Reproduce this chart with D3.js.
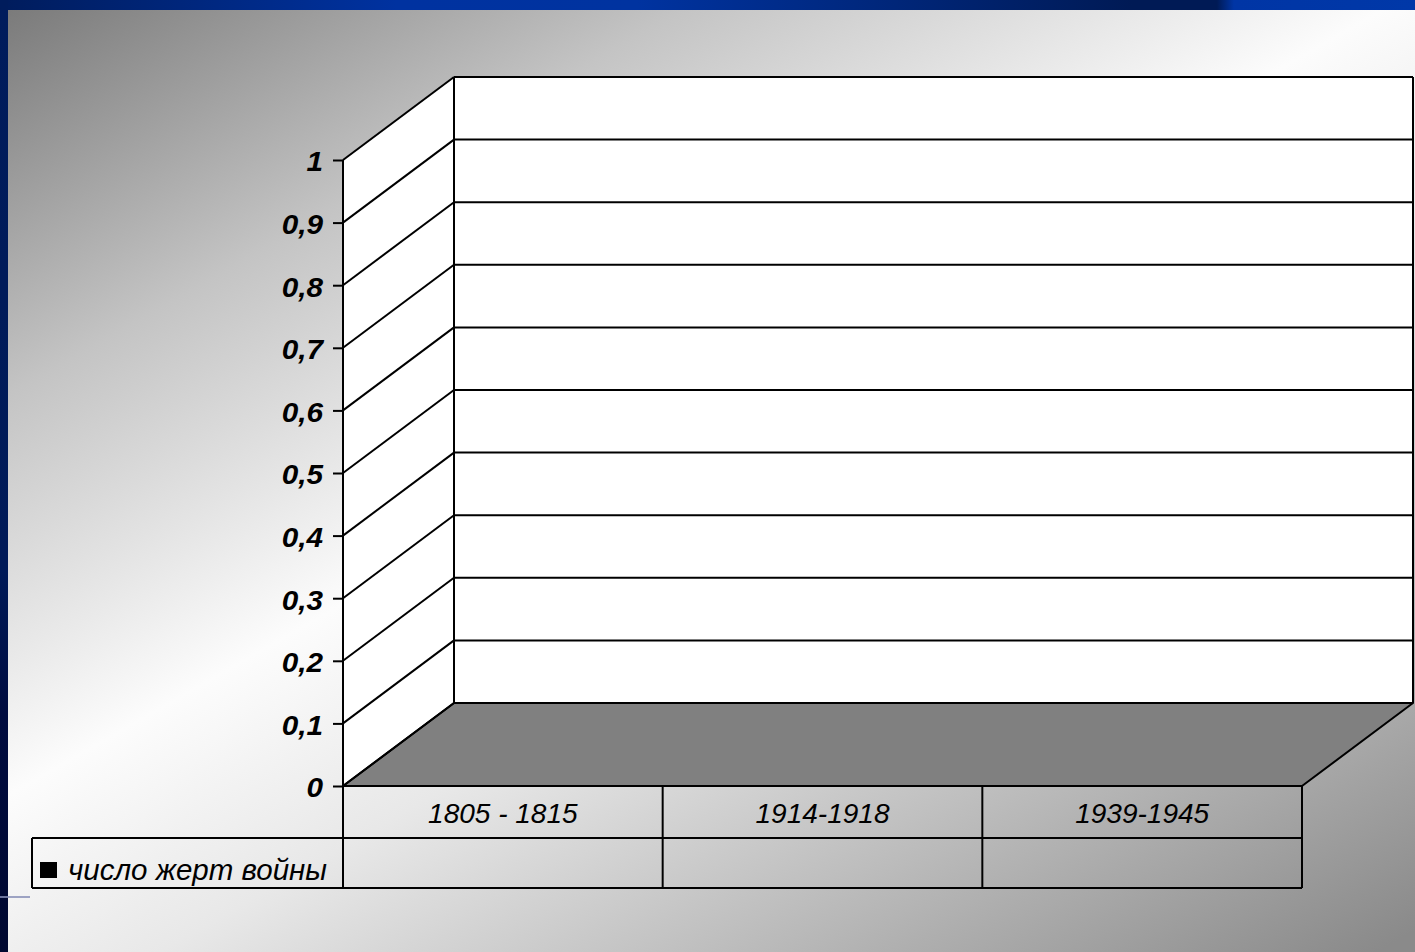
<!DOCTYPE html>
<html><head><meta charset="utf-8">
<script src="https://cdn.jsdelivr.net/npm/d3@7/dist/d3.min.js"></script>
<style>html,body{margin:0;padding:0;overflow:hidden;background:#fff}svg{display:block}</style>
</head><body>
<svg id="c" width="1415" height="952"></svg>
<script>
const categories = ["1805 - 1815", "1914-1918", "1939-1945"];
const seriesName = "число жерт войны";
const seriesValues = [null, null, null];
const yTicks = [0, 0.1, 0.2, 0.3, 0.4, 0.5, 0.6, 0.7, 0.8, 0.9, 1];

const W = 1415, H = 952;
const svg = d3.select("#c");
const defs = svg.append("defs");

// slide background
const bg = defs.append("linearGradient").attr("id","bg").attr("gradientUnits","userSpaceOnUse")
  .attr("x1",0).attr("y1",0).attr("x2",749).attr("y2",1311);
[[0,"#787878"],[0.23,"#c4c4c4"],[0.46,"#fcfcfc"],[0.6,"#e8e8e8"],[1,"#8a8a8a"]].forEach(s=>bg.append("stop").attr("offset",s[0]).attr("stop-color",s[1]));
const topG = defs.append("linearGradient").attr("id","topb").attr("x1",0).attr("x2",1).attr("y1",0).attr("y2",0);
[[0,"#001c5c"],[0.28,"#0032a0"],[0.45,"#0033a0"],[0.8,"#001a55"],[0.86,"#001a55"],[0.872,"#0035a5"],[1,"#0038a8"]].forEach(s=>topG.append("stop").attr("offset",s[0]).attr("stop-color",s[1]));
const leftG = defs.append("linearGradient").attr("id","leftb").attr("x1",0).attr("x2",0).attr("y1",0).attr("y2",1);
[[0,"#001c5c"],[0.6,"#001a58"],[0.75,"#000c40"],[1,"#000830"]].forEach(s=>leftG.append("stop").attr("offset",s[0]).attr("stop-color",s[1]));

svg.append("rect").attr("width",W).attr("height",H).attr("fill","url(#bg)");
svg.append("rect").attr("x",0).attr("y",0).attr("width",W).attr("height",10).attr("fill","url(#topb)");
svg.append("rect").attr("x",0).attr("y",0).attr("width",8).attr("height",H).attr("fill","url(#leftb)");
svg.append("line").attr("x1",0).attr("x2",30).attr("y1",897).attr("y2",897).attr("stroke","#8890b8").attr("stroke-width",2).attr("opacity",0.8);

// chart geometry
const x0 = 343, x1 = 1302, yBase = 786, yTop = 160;
const dx = 111, dy = -83;
const y = d3.scaleLinear().domain([0,1]).range([yBase, yTop]);
const x = d3.scaleBand().domain(categories).range([x0, x1]);

const g = svg.append("g");
const stroke = "#000", sw = 2;

// back wall
g.append("rect").attr("x", x0+dx).attr("y", y(1)+dy).attr("width", x1-x0).attr("height", y(0)-y(1))
  .attr("fill","#fff");
// side wall
g.append("path").attr("d", `M${x0},${y(0)}L${x0},${y(1)}L${x0+dx},${y(1)+dy}L${x0+dx},${y(0)+dy}Z`).attr("fill","#fff");
// floor
g.append("path").attr("d", `M${x0},${y(0)}L${x0+dx},${y(0)+dy}L${x1+dx},${y(0)+dy}L${x1},${y(0)}Z`)
  .attr("fill","#808080").attr("stroke",stroke).attr("stroke-width",sw).attr("stroke-linejoin","round");

// gridlines on back wall + side wall
yTicks.forEach(v=>{
  g.append("line").attr("x1",x0).attr("y1",y(v)).attr("x2",x0+dx).attr("y2",y(v)+dy).attr("stroke",stroke).attr("stroke-width",sw);
  g.append("line").attr("x1",x0+dx).attr("y1",y(v)+dy).attr("x2",x1+dx).attr("y2",y(v)+dy).attr("stroke",stroke).attr("stroke-width",sw);
});
g.append("line").attr("x1",x0+dx).attr("y1",y(1)+dy).attr("x2",x0+dx).attr("y2",y(0)+dy).attr("stroke",stroke).attr("stroke-width",sw);
g.append("line").attr("x1",x1+dx).attr("y1",y(1)+dy).attr("x2",x1+dx).attr("y2",y(0)+dy).attr("stroke",stroke).attr("stroke-width",sw);

// bars (series has no values)
g.selectAll("rect.bar").data(seriesValues.map((v,i)=>({v,c:categories[i]})).filter(d=>d.v!=null))
  .enter().append("rect").attr("class","bar")
  .attr("x",d=>x(d.c)+x.bandwidth()*0.2).attr("width",x.bandwidth()*0.6)
  .attr("y",d=>y(d.v)).attr("height",d=>y(0)-y(d.v)).attr("fill","#333");

// y axis
const yAxis = d3.axisLeft(y).tickValues(yTicks).tickSize(10).tickPadding(10)
  .tickFormat(d=>String(d).replace(".",","));
const ax = svg.append("g").attr("transform",`translate(${x0},0)`).call(yAxis);
ax.select(".domain").remove();
ax.selectAll(".tick line").attr("stroke",stroke).attr("stroke-width",sw);
ax.selectAll(".tick text").attr("fill","#000").attr("font-family","'Liberation Sans', Arial, sans-serif")
  .attr("font-size",27).attr("font-weight","bold").attr("font-style","italic")
  .attr("x",0).attr("dy","0.4em").attr("transform","translate(-20,0) scale(1.1,1)");
svg.append("line").attr("x1",x0).attr("x2",x0).attr("y1",y(1)).attr("y2",888).attr("stroke",stroke).attr("stroke-width",sw);

// data table
const rowTop = yBase, rowMid = 838, rowBot = 888, legLeft = 32;
const t = svg.append("g").attr("fill","none").attr("stroke",stroke).attr("stroke-width",sw);
t.append("line").attr("x1",x0).attr("x2",x1).attr("y1",rowTop).attr("y2",rowTop);
t.append("line").attr("x1",legLeft).attr("x2",x1).attr("y1",rowMid).attr("y2",rowMid);
t.append("line").attr("x1",legLeft).attr("x2",x1).attr("y1",rowBot).attr("y2",rowBot);
t.append("line").attr("x1",legLeft).attr("x2",legLeft).attr("y1",rowMid).attr("y2",rowBot);
categories.forEach(c=>{
  t.append("line").attr("x1",x(c)+x.bandwidth()).attr("x2",x(c)+x.bandwidth()).attr("y1",rowTop).attr("y2",rowBot);
});
svg.selectAll("text.cat").data(categories).enter().append("text").attr("class","cat")
  .attr("x",d=>x(d)+x.bandwidth()/2).attr("y",(rowTop+rowMid)/2+1).attr("dy","0.35em")
  .attr("text-anchor","middle").attr("font-family","'Liberation Sans', Arial, sans-serif")
  .attr("font-size",28).attr("font-style","italic").attr("fill","#000").text(d=>d);

// legend key + name
svg.append("rect").attr("x",40).attr("y",862).attr("width",17).attr("height",16).attr("fill","#000");
svg.append("text").attr("x",68).attr("y",880)
  .attr("font-family","'Liberation Sans', Arial, sans-serif").attr("font-size",29.5).attr("font-style","italic")
  .attr("fill","#000").text(seriesName);
</script>
</body></html>
